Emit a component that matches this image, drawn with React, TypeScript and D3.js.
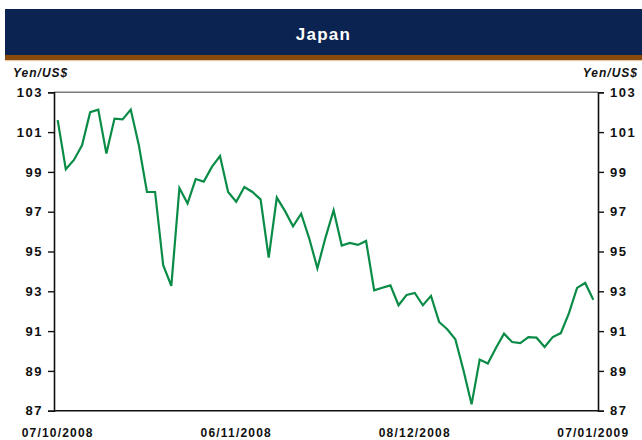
import React, { useEffect, useRef } from "react";
import * as d3 from "d3";

// chart text
const title = "Japan";
const unitLabel = "Yen/US$";

// daily yen per dollar, 07/10/2008 .. 07/01/2009 (business days)
const yenPerDollar = [
  101.6, 99.13, 99.6, 100.34, 102.0, 102.13, 99.92, 101.68, 101.64, 102.13,
  100.34, 97.99, 97.99, 94.31, 93.27, 98.19, 97.41, 98.64, 98.51, 99.25,
  99.8, 97.99, 97.5, 98.24, 97.99, 97.62, 94.69, 97.71, 97.04, 96.27,
  96.9, 95.65, 94.16, 95.7, 97.07, 95.3, 95.43, 95.33, 95.53, 93.05,
  93.18, 93.3, 92.3, 92.82, 92.92, 92.3, 92.77, 91.46, 91.09, 90.59,
  89.03, 87.32, 89.57, 89.37, 90.15, 90.87, 90.45, 90.4, 90.7, 90.67,
  90.2, 90.7, 90.9, 91.9, 93.17, 93.42, 92.58,
];

// x tick labels and the position of each in the series
const dateTicks = ["07/10/2008", "06/11/2008", "08/12/2008", "07/01/2009"];
const dateTickIndex = [0, 22, 44, 66];

// y ticks
const yTicks = [87, 89, 91, 93, 95, 97, 99, 101, 103];

const W = 642;
const H = 440;
const FONT = "'Liberation Sans', Arial, sans-serif";

const App: React.FC = () => {
  const svgRef = useRef<SVGSVGElement>(null);

  useEffect(() => {
    if (!svgRef.current) return;
    const svg = d3.select(svgRef.current);
    svg.selectAll("*").remove();

    // plot frame
    const left = 54;
    const right = 598;
    const top = 92.3;
    const bottom = 410.7;

    const x = d3.scaleLinear().domain([0, yenPerDollar.length - 1]).range([57.7, 593.3]);
    const y = d3.scaleLinear().domain([87, 103]).range([bottom, top]);

    // header band
    svg.append("rect").attr("x", 5).attr("y", 9).attr("width", W - 5).attr("height", 46).attr("fill", "#0b2350");
    svg.append("rect").attr("x", 5).attr("y", 55).attr("width", W - 5).attr("height", 5).attr("fill", "#8a4a0c");
    svg.append("rect").attr("x", 5).attr("y", 60).attr("width", W - 5).attr("height", 1.2).attr("fill", "#e3cba9");

    svg
      .append("text")
      .attr("x", (5 + W) / 2)
      .attr("y", 39.5)
      .attr("text-anchor", "middle")
      .style("font-family", FONT)
      .style("font-size", "17px")
      .style("font-weight", "bold")
      .style("letter-spacing", "1.3px")
      .attr("fill", "#ffffff")
      .text(title);

    // unit labels
    const unit = (tx: number, anchor: string) =>
      svg
        .append("text")
        .attr("x", tx)
        .attr("y", 77)
        .attr("text-anchor", anchor)
        .style("font-family", FONT)
        .style("font-size", "12px")
        .style("font-weight", "bold")
        .style("font-style", "italic")
        .style("letter-spacing", "1px")
        .attr("fill", "#111")
        .text(unitLabel);
    unit(13, "start");
    unit(638, "end");

    // frame lines
    svg.append("line").attr("x1", left).attr("x2", right).attr("y1", top).attr("y2", top)
      .attr("stroke", "#7a7a7a").attr("stroke-width", 1.5);
    svg.append("line").attr("x1", left).attr("x2", right).attr("y1", bottom).attr("y2", bottom)
      .attr("stroke", "#111").attr("stroke-width", 1.6);

    // y axes, both sides
    const leftAxis = svg.append("g").attr("transform", `translate(${left},0)`)
      .call(d3.axisLeft(y).tickValues(yTicks).tickSize(6).tickPadding(5).tickFormat(d3.format("d")));
    const rightAxis = svg.append("g").attr("transform", `translate(${right},0)`)
      .call(d3.axisRight(y).tickValues(yTicks).tickSize(6).tickPadding(6).tickFormat(d3.format("d")));
    [leftAxis, rightAxis].forEach((g) => {
      g.select(".domain").attr("stroke", "#111").attr("stroke-width", 1.6);
      g.selectAll(".tick line").attr("stroke", "#111").attr("stroke-width", 1.4);
      g.selectAll(".tick text")
        .style("font-family", FONT)
        .style("font-size", "13px")
        .style("font-weight", "bold")
        .style("letter-spacing", "1.5px")
        .attr("fill", "#111");
    });

    // x labels
    svg
      .append("g")
      .selectAll("text")
      .data(dateTicks)
      .join("text")
      .attr("x", (_, i) => x(dateTickIndex[i]))
      .attr("y", 437)
      .attr("text-anchor", "middle")
      .style("font-family", FONT)
      .style("font-size", "12px")
      .style("font-weight", "bold")
      .style("letter-spacing", "1.2px")
      .attr("fill", "#111")
      .text((d) => d);

    // series
    const line = d3
      .line<number>()
      .x((_, i) => x(i))
      .y((d) => y(d));

    svg
      .append("path")
      .datum(yenPerDollar)
      .attr("d", line)
      .attr("fill", "none")
      .attr("stroke", "#0a8c47")
      .attr("stroke-width", 2.2)
      .attr("stroke-linejoin", "miter");
  }, []);

  return (
    <svg
      ref={svgRef}
      width={W}
      height={H}
      style={{ position: "absolute", left: 0, top: 0, background: "#fff" }}
    />
  );
};

export default App;
